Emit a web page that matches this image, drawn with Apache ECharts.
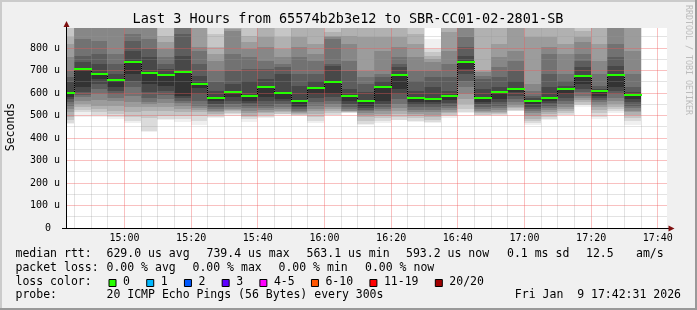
<!DOCTYPE html>
<html><head><meta charset="utf-8">
<script src="https://cdn.jsdelivr.net/npm/echarts@6/dist/echarts.min.js"></script>
<style>html,body{margin:0;padding:0;background:#f0f0f0}#c{width:697px;height:310px}</style>
</head><body><div id="c"></div><script>
// ---------------- data ----------------
const title = 'Last 3 Hours from 65574b2b3e12 to SBR-CC01-02-2801-SB';
const axisStart = '14:42:45', axisEnd = '17:42:45';
const stepMinutes = 5;
const stepEnds = ['14:45','14:50','14:55','15:00','15:05','15:10','15:15','15:20','15:25','15:30','15:35','15:40','15:45','15:50','15:55','16:00','16:05','16:10','16:15','16:20','16:25','16:30','16:35','16:40','16:45','16:50','16:55','17:00','17:05','17:10','17:15','17:20','17:25','17:30','17:35'];
const median = [601,707,686,658,739.4,690,680,695,641,578,606,587,627,601,566,622,649,588,563.1,627,680,578,573,587,738,578,606,618,566,576,619,676,610,680,593.2];
// 20 sorted pings per step (microseconds); 1000 = above the top of the graph
const pings = [
 [462,468,480,495,514,529,544,559,573,584,601,647,670,699,759,818,847,1000,1000,1000],
 [495,514,524,536,551,566,581,593,603,625,707,736,766,840,1000,1000,1000,1000,1000,1000],
 [493,504,514,529,544,569,596,618,640,662,686,729,773,833,1000,1000,1000,1000,1000,1000],
 [485,492,507,522,544,563,578,596,610,625,658,684,729,773,1000,1000,1000,1000,1000,1000],
 [468,477,492,514,536,559,588,625,655,684,739.4,788,833,862,1000,1000,1000,1000,1000,1000],
 [426,432,490,520,540,551,562,580,605,640,690,759,796,840,1000,1000,1000,1000,1000,1000],
 [480,485,499,519,536,554,573,593,610,633,680,707,729,759,796,825,855,1000,1000,1000],
 [472,485,499,514,529,544,554,566,578,588,695,766,862,1000,1000,1000,1000,1000,1000,1000],
 [458,477,499,514,525,533,544,566,596,622,641,677,729,788,803,1000,1000,1000,1000,1000],
 [489,495,501,507,514,522,529,539,551,563,578,610,648,699,744,773,803,862,1000,1000],
 [499,507,513,519,525,529,539,551,566,584,606,640,699,773,877,884,1000,1000,1000,1000],
 [472,485,492,499,510,522,533,544,554,566,587,655,707,759,796,825,855,1000,1000,1000],
 [488,492,502,510,517,525,533,544,563,581,627,662,707,744,803,847,1000,1000,1000,1000],
 [502,505,508,514,522,529,539,551,563,573,601,684,714,729,759,796,847,1000,1000,1000],
 [500,501,503,505,510,516,522,529,536,544,566,633,684,759,803,847,1000,1000,1000,1000],
 [467,477,492,507,519,529,544,559,578,596,622,655,684,744,773,818,1000,1000,1000,1000],
 [502,504,510,519,529,539,551,566,584,596,649,722,729,840,847,855,870,1000,1000,1000],
 [512,513,514,516,519,522,529,539,551,563,588,618,699,744,818,855,1000,1000,1000,1000],
 [458,462,477,495,502,510,519,525,533,544,563.1,603,640,670,699,847,1000,1000,1000,1000],
 [468,477,489,498,507,519,527,539,551,566,627,655,670,684,788,847,1000,1000,1000,1000],
 [478,480,492,507,519,533,551,573,596,618,680,714,729,759,803,847,1000,1000,1000,1000],
 [472,477,488,497,507,514,525,536,548,559,578,610,655,699,759,818,862,1000,1000,1000],
 [468,471,480,492,504,514,525,536,548,559,573,625,670,699,736,751,766,781,796,840],
 [490,498,504,510,517,525,533,544,554,569,587,610,670,729,788,870,1000,1000,1000,1000],
 [510,514,529,551,573,596,625,655,684,707,738,766,803,847,1000,1000,1000,1000,1000,1000],
 [500,501,504,510,514,522,529,539,551,559,578,618,662,677,692,699,1000,1000,1000,1000],
 [498,502,507,511,517,525,533,544,559,573,606,625,670,714,759,818,1000,1000,1000,1000],
 [518,522,526,532,539,548,559,573,588,603,618,655,699,744,788,1000,1000,1000,1000,1000],
 [458,465,474,485,499,510,519,529,539,551,566,578,588,610,640,847,1000,1000,1000,1000],
 [480,485,495,507,516,525,533,544,554,566,576,625,684,773,803,847,1000,1000,1000,1000],
 [502,504,510,519,529,539,551,563,578,596,619,633,655,684,773,818,1000,1000,1000,1000],
 [538,545,551,559,569,578,588,603,618,640,676,714,744,773,825,847,877,1000,1000,1000],
 [483,492,510,525,536,548,559,569,578,588,610,618,633,684,744,818,1000,1000,1000,1000],
 [512,519,529,539,551,563,578,596,610,625,680,722,759,818,1000,1000,1000,1000,1000,1000],
 [458,474,489,504,514,522,533,544,559,573,593.2,603,625,684,788,1000,1000,1000,1000,1000]
];
const xTickLabels = ['15:00','15:20','15:40','16:00','16:20','16:40','17:00','17:20','17:40'];
const yMax = 888.89, yStep = 100, yMinorStep = 50;
const xMajorStep = 20, xMinorStep = 5;
const yAxisName = 'Seconds';
const medianStats = ['629.0 us avg','739.4 us max','563.1 us min','593.2 us now','0.1 ms sd','12.5','am/s'];
const lossStats = ['0.00 % avg','0.00 % max','0.00 % min','0.00 % now'];
const lossLabels = ['0','1','2','3','4-5','6-10','11-19','20/20'];
const lossColors = ['#26ff00','#00b8ff','#0059ff','#5e00ff','#ff00ff','#ff5500','#ff0000','#a10000'];
const probeText = '20 ICMP Echo Pings (56 Bytes) every 300s';
const stamp = 'Fri Jan  9 17:42:31 2026';
const watermark = 'RRDTOOL / TOBI OETIKER';

// ---------------- layout / style ----------------
const FONT = '"DejaVu Sans Mono", monospace';
const medianStatsX = [106.5,206.5,306.5,406,507,586,636];
const lossStatsX = [106.5,192.5,278.5,365];
const rowY = [254.5, 268, 282, 295.5];
const GRID_C = 'rgba(150,150,150,0.27)', MGRID_C = 'rgba(240,90,90,0.38)';
function toMin(s){ const a = s.split(':').map(Number); return (a[0]-15)*60 + a[1] + (a[2]||0)/60; }
function gray(k){ const g = 240 - 21*k; return 'rgb('+g+','+g+','+g+')'; }
const xMin = toMin(axisStart), xMax = toMin(axisEnd);
const isMult = (v, s) => Math.abs(v/s - Math.round(v/s)) < 1e-9;

const chart = echarts.init(document.getElementById('c'), null, {renderer:'canvas'});

const vLines = [], hLines = [];
for (let n = Math.ceil(xMin/xMinorStep); n*xMinorStep < xMax; n++){ const v = n*xMinorStep; vLines.push({v, major:isMult(v, xMajorStep)}); }
for (let n = 1; n*yMinorStep < yMax; n++){ const v = n*yMinorStep; hLines.push({v, major:isMult(v, yStep)}); }

function csRect(cs){ return {x:cs.x, y:cs.y, width:cs.width, height:cs.height}; }

const series = [
 { type:'custom', name:'smoke', silent:true, z:2,
   data: stepEnds.map((t,i)=>[toMin(t)-stepMinutes, toMin(t), median[i], i]),
   encode:{x:[0,1], y:2},
   renderItem(params, api){
     const i = api.value(3), p = pings[i];
     const x0 = Math.floor(api.coord([api.value(0),0])[0]);
     const x1 = Math.floor(api.coord([api.value(1),0])[0]);
     const children = [];
     for (let k=0;k<10;k++){
       const yTop = Math.round(api.coord([0,p[19-k]])[1]);
       const yBot = Math.round(api.coord([0,p[k]])[1]);
       const r = echarts.graphic.clipRectByRect({x:x0,y:yTop,width:x1-x0,height:yBot-yTop}, csRect(params.coordSys));
       if (r) children.push({type:'rect', shape:r, style:{fill:gray(k)}});
     }
     return {type:'group', children};
   }
 },
 { type:'custom', name:'grid', silent:true, z:3,
   data: [[xMin, 0]], encode:{x:0, y:1},
   renderItem(params, api){
     const cs = params.coordSys;
     const children = [];
     const bar = (x, y, w, h, major) => children.push({type:'rect', shape:{x, y, width:w, height:h},
       style:{fill: major ? MGRID_C : GRID_C}});
     vLines.forEach(l=>{
       const x = Math.floor(api.coord([l.v, 0])[0]);
       bar(x, cs.y, 1, cs.height, l.major);
     });
     hLines.forEach(l=>{
       const y = Math.floor(api.coord([xMin, l.v])[1]);
       bar(cs.x, y, cs.width, 1, l.major);
     });
     return {type:'group', children};
   }
 },
 { type:'custom', name:'steps', silent:true, z:4,
   data: stepEnds.slice(1).map((t,i)=>[toMin(t)-stepMinutes, median[i], median[i+1]]),
   encode:{x:0, y:[1,2]},
   renderItem(params, api){
     const x = Math.floor(api.coord([api.value(0),0])[0]);
     const y0 = Math.round(api.coord([0,api.value(1)])[1]);
     const y1 = Math.round(api.coord([0,api.value(2)])[1]);
     const children = [];
     for (let y = Math.min(y0,y1); y < Math.max(y0,y1); y += 2)
       children.push({type:'rect', shape:{x, y, width:1, height:1}, style:{fill:'#000'}});
     return {type:'group', children};
   }
 },
 { type:'custom', name:'median', silent:true, z:5,
   data: stepEnds.map((t,i)=>[toMin(t)-stepMinutes, toMin(t), median[i]]),
   encode:{x:[0,1], y:2},
   renderItem(params, api){
     const x0 = Math.floor(api.coord([api.value(0),0])[0]);
     const x1 = Math.floor(api.coord([api.value(1),0])[0]);
     const y = Math.round(api.coord([0,api.value(2)])[1]);
     const r = echarts.graphic.clipRectByRect({x:x0,y:y-1,width:x1-x0+1,height:2}, csRect(params.coordSys));
     return r ? {type:'rect', shape:r, style:{fill:lossColors[0]}} : null;
   }
 }
];

// graphic decorations
const g = [];
const txt = (x,y,text,opt) => Object.assign({type:'text', x, y, silent:true, z:100,
  style:Object.assign({text, font:'11.5px '+FONT, fill:'#000', textAlign:'left', textVerticalAlign:'middle'}, opt||{})});
// frame
g.push({type:'rect', shape:{x:0,y:0,width:697,height:2}, style:{fill:'#cbcbcb'}, silent:true});
g.push({type:'rect', shape:{x:0,y:0,width:2,height:310}, style:{fill:'#cbcbcb'}, silent:true});
g.push({type:'rect', shape:{x:0,y:308,width:697,height:2}, style:{fill:'#999'}, silent:true});
g.push({type:'rect', shape:{x:695,y:0,width:2,height:310}, style:{fill:'#999'}, silent:true});
// axes
g.push({type:'line', shape:{x1:62,y1:228.5,x2:670,y2:228.5}, style:{stroke:'#000',lineWidth:1}, z:100, silent:true});
g.push({type:'line', shape:{x1:66.5,y1:26,x2:66.5,y2:229}, style:{stroke:'#000',lineWidth:1}, z:100, silent:true});
g.push({type:'polygon', shape:{points:[[66.5,21],[63.5,27],[69.5,27]]}, style:{fill:'#7f1010'}, z:101, silent:true});
g.push({type:'polygon', shape:{points:[[674.5,228.5],[668.5,225.5],[668.5,231.5]]}, style:{fill:'#7f1010'}, z:101, silent:true});
// title etc.
g.push(txt(348, 19.5, title, {font:'13.5px '+FONT, textAlign:'center'}));
g.push(Object.assign(txt(11, 127, yAxisName, {textAlign:'center'}), {rotation:Math.PI/2}));
g.push(Object.assign(txt(688, 60, watermark, {textAlign:'center', font:'8.3px '+FONT, fill:'#bcbcbc'}), {rotation:-Math.PI/2}));
// legend rows
g.push(txt(15.5, rowY[0], 'median rtt:'));
medianStats.forEach((s,i)=>g.push(txt(medianStatsX[i], rowY[0], s)));
g.push(txt(15.5, rowY[1], 'packet loss:'));
lossStats.forEach((s,i)=>g.push(txt(lossStatsX[i], rowY[1], s)));
g.push(txt(15.5, rowY[2], 'loss color:'));
let bx = 108.5;
lossLabels.forEach((s,i)=>{
  g.push({type:'rect', shape:{x:bx+0.5,y:279.5,width:7,height:7}, style:{fill:lossColors[i], stroke:'#000', lineWidth:1}, z:100, silent:true});
  g.push(txt(bx+14.5, rowY[2], s));
  bx = bx + 14.5 + s.length*6.92 + 16.3;
});
g.push(txt(15.5, rowY[3], 'probe:'));
g.push(txt(106.5, rowY[3], probeText));
g.push(txt(681, rowY[3], stamp, {textAlign:'right'}));

chart.setOption({
  animation:false,
  backgroundColor:'#f0f0f0',
  grid:{left:67, top:28, width:600, height:200, show:true, backgroundColor:'#fff', borderWidth:0, containLabel:false},
  xAxis:{type:'value', min:xMin, max:xMax,
    axisLine:{show:false}, axisTick:{show:false}, splitLine:{show:false}, minorSplitLine:{show:false},
    axisLabel:{customValues: xTickLabels.map(toMin), formatter: v => xTickLabels[xTickLabels.map(toMin).indexOf(v)] || '',
      fontFamily:FONT, fontSize:10, color:'#000', margin:5}},
  yAxis:{type:'value', min:0, max:yMax, interval:yStep,
    axisLine:{show:false}, axisTick:{show:false}, splitLine:{show:false}, minorSplitLine:{show:false},
    axisLabel:{showMaxLabel:false, margin:7, fontFamily:FONT, fontSize:10, color:'#000',
      formatter: v => v === 0 ? '{z|0}' : v + ' u',
      rich:{z:{padding:[0,9,0,0], fontFamily:FONT, fontSize:10, color:'#000'}}}},
  graphic:g,
  series
});
</script></body></html>
